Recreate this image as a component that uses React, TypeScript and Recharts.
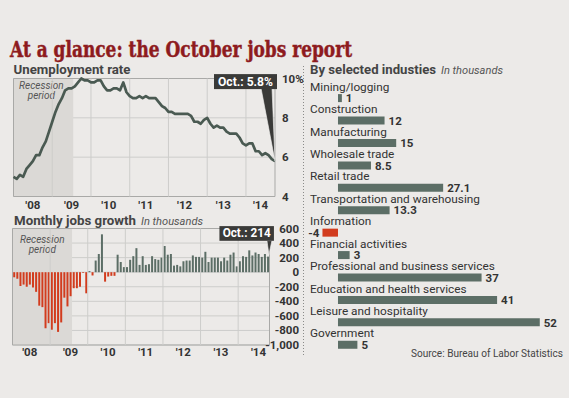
import React from 'react';
import {
  LineChart, Line, BarChart, Bar, Cell, XAxis, YAxis, CartesianGrid,
  ReferenceArea, ReferenceLine, ReferenceDot, LabelList,
} from 'recharts';

// ---------- data ----------
const YEAR_LABELS = ["'08", "'09", "'10", "'11", "'12", "'13", "'14"];
const LINE_TICKS = [6, 18, 29.5, 41, 53, 65, 76.5];
const BAR_TICKS = [5, 18, 30, 42, 54, 66, 78];
const YEAR_STARTS = [12, 24, 36, 48, 60, 72];
const RATE_TICKS = [4, 6, 8, 10];
const JOBS_TICKS = [-1000, -800, -600, -400, -200, 0, 200, 400, 600];

// Unemployment rate, Jan 2008 - Oct 2014 (%)
const UNEMPLOYMENT = [
  5.0, 4.9, 5.1, 5.0, 5.4, 5.6, 5.8, 6.1, 6.1, 6.5, 6.8, 7.3,
  7.8, 8.3, 8.7, 9.0, 9.4, 9.5, 9.5, 9.6, 9.8, 10.0, 9.9, 9.9,
  9.8, 9.8, 9.9, 9.9, 9.6, 9.4, 9.4, 9.5, 9.5, 9.4, 9.8, 9.3,
  9.1, 9.0, 9.0, 9.1, 9.0, 9.1, 9.0, 9.0, 9.0, 8.8, 8.6, 8.5,
  8.3, 8.3, 8.2, 8.2, 8.2, 8.2, 8.2, 8.1, 7.8, 7.8, 7.7, 7.9,
  8.0, 7.7, 7.5, 7.6, 7.5, 7.5, 7.3, 7.2, 7.2, 7.2, 7.0, 6.7,
  6.6, 6.7, 6.7, 6.3, 6.3, 6.1, 6.2, 6.1, 5.9, 5.8,
];

// Monthly jobs growth, Jan 2008 - Oct 2014 (thousands)
const JOBS = [
  -70, -90, -190, -170, -200, -170, -210, -270, -460, -480, -770, -700,
  -790, -700, -820, -690, -350, -470, -330, -220, -220, -200, -10, -290,
  15, -45, 160, 250, 520, -130, -60, -50, -50, 240, 140, 70,
  70, 170, 220, 330, 100, 220, 100, 110, 220, 180, 170, 200,
  360, 240, 250, 90, 100, 80, 150, 160, 160, 230, 210, 210,
  200, 280, 140, 200, 200, 200, 150, 200, 160, 240, 270, 80,
  150, 220, 210, 300, 230, 270, 250, 210, 250, 214,
];

const INDUSTRIES = [
  'Mining/logging', 'Construction', 'Manufacturing', 'Wholesale trade', 'Retail trade',
  'Transportation and warehousing', 'Information', 'Financial activities',
  'Professional and business services', 'Education and health services',
  'Leisure and hospitality', 'Government',
];
const INDUSTRY_VALUES = [1, 12, 15, 8.5, 27.1, 13.3, -4, 3, 37, 41, 52, 5];

const RECESSION_END_LINE = 18.5;
const RECESSION_END_BAR = 18;
const LAST_RATE_LABEL = 'Oct.: 5.8%';
const LAST_JOBS_LABEL = 'Oct.: 214';

// ---------- styles ----------
const BG = '#eceae8';
const SHADE = '#dbd9d6';
const GRID = '#cdcdcb';
const FRAME = '#a9a9a7';
const LINE_C = '#4a5a52';
const GREEN = '#5c6e66';
const RED = '#d23c1e';
const TEXT = '#333333';
const TITLE = '#8e1b1e';
const SANS = 'Roboto, "Open Sans", sans-serif';

const lineData = UNEMPLOYMENT.map((v, i) => ({ i, v }));
const jobsData = JOBS.map((v, i) => ({ i, v }));
const industryData = INDUSTRIES.map((name, k) => ({ name, value: INDUSTRY_VALUES[k] }));

const YearTick = (props: any) => {
  const { x, y, payload, ticks, dy } = props;
  const idx = ticks.indexOf(payload.value);
  return (
    <text x={x} y={y + dy} textAnchor="middle" fontFamily={SANS} fontWeight={700} fontSize={11.5} fill={TEXT}>
      {YEAR_LABELS[idx]}
    </text>
  );
};

const RateTick = (props: any) => {
  const { x, y, payload } = props;
  const label = payload.value === 10 ? '10%' : String(payload.value);
  return (
    <text x={x + 7} y={y + 4} textAnchor="start" fontFamily={SANS} fontWeight={700} fontSize={11.5} fill={TEXT}>
      {label}
    </text>
  );
};

const JobsTick = (props: any) => {
  const { x, y, payload } = props;
  return (
    <text x={x + 29.5} y={y + 4} textAnchor="end" fontFamily={SANS} fontWeight={700} fontSize={11.5} fill={TEXT}>
      {Number(payload.value).toLocaleString('en-US')}
    </text>
  );
};

const recessionLabel = (dx: number, dy1: number, dy2: number) => (p: any) => {
  const vb = p.viewBox || {};
  const cx = vb.x + vb.width / 2 + dx;
  return (
    <g>
      <text x={cx} y={vb.y + dy1} textAnchor="middle" fontFamily={SANS} fontStyle="italic" fontSize={10} fill="#555">Recession</text>
      <text x={cx} y={vb.y + dy2} textAnchor="middle" fontFamily={SANS} fontStyle="italic" fontSize={10} fill="#555">period</text>
    </g>
  );
};

const RateCallout = (p: any) => {
  const { cx, cy } = p;
  return (
    <g>
      <polygon points={`${cx - 14},${cy - 73} ${cx - 3},${cy - 73} ${cx},${cy}`} fill="#3a3a38" stroke="#f4f4f2" strokeWidth={0.6} />
      <rect x={cx - 61} y={cy - 87} width={63} height={15} fill="#3a3a38" />
      <text x={cx - 29.5} y={cy - 75.5} textAnchor="middle" fontFamily={SANS} fontWeight={700} fontSize={12} fill="#fff" textLength={55} lengthAdjust="spacingAndGlyphs">
        {LAST_RATE_LABEL}
      </text>
    </g>
  );
};

const JobsCallout = (p: any) => {
  const { cx, cy } = p;
  return (
    <g>
      <polygon points={`${cx - 1},${cy - 16} ${cx + 4},${cy - 16} ${cx + 1},${cy - 2}`} fill="#3a3a38" stroke="#f4f4f2" strokeWidth={0.6} />
      <rect x={cx - 48.5} y={cy - 30.5} width={54.5} height={14.7} fill="#3a3a38" />
      <text x={cx - 21.3} y={cy - 19.3} textAnchor="middle" fontFamily={SANS} fontWeight={700} fontSize={12} fill="#fff" textLength={48} lengthAdjust="spacingAndGlyphs">
        {LAST_JOBS_LABEL}
      </text>
    </g>
  );
};

// category name drawn above each industry bar, starting 28px left of the zero line
const NameLabel = (props: any) => {
  const { x, y, width, value, index } = props;
  const v = INDUSTRY_VALUES[index];
  const zero = v >= 0 ? Math.min(x, x + width) : Math.max(x, x + width);
  return (
    <text x={zero - 28} y={y - 3.4} textAnchor="start" fontFamily={SANS} fontSize={11.8} fill={TEXT}>
      {value}
    </text>
  );
};

const ValueLabel = (props: any) => {
  const { x, y, width, height, value } = props;
  const left = Math.min(x, x + width);
  const right = Math.max(x, x + width);
  const neg = value < 0;
  return (
    <text
      x={neg ? left - 3 : right + 4}
      y={y + height / 2 + 4.2}
      textAnchor={neg ? 'end' : 'start'}
      fontFamily={SANS}
      fontWeight={700}
      fontSize={11.5}
      fill={TEXT}
    >
      {value}
    </text>
  );
};

export default function App() {
  return (
    <div style={{ position: 'absolute', left: 0, top: 0, width: 569, height: 398, background: BG, overflow: 'hidden' }}>
      <svg width={569} height={398} style={{ position: 'absolute', left: 0, top: 0 }}>
        <text x={10} y={57} fontFamily='"DejaVu Serif", serif' fontWeight={700} fontSize={21.5} fill={TITLE} stroke={TITLE} strokeWidth={0.5} textLength={342} lengthAdjust="spacingAndGlyphs">
          At a glance: the October jobs report
        </text>
        <text x={13.5} y={74.3} fontFamily={SANS} fontWeight={700} fontSize={12.5} fill="#444" textLength={117} lengthAdjust="spacingAndGlyphs">Unemployment rate</text>
        <text x={14} y={224.5} fontFamily={SANS} fontWeight={700} fontSize={12.5} fill="#444" textLength={122} lengthAdjust="spacingAndGlyphs">Monthly jobs growth</text>
        <text x={141} y={224.5} fontFamily={SANS} fontStyle="italic" fontSize={10.5} fill="#555" textLength={62} lengthAdjust="spacingAndGlyphs">In thousands</text>
        <text x={310} y={74.3} fontFamily={SANS} fontWeight={700} fontSize={12} fill="#444" textLength={126} lengthAdjust="spacingAndGlyphs">By selected industies</text>
        <text x={441} y={74.3} fontFamily={SANS} fontStyle="italic" fontSize={10.5} fill="#555" textLength={62} lengthAdjust="spacingAndGlyphs">In thousands</text>
        <line x1={303.5} y1={66} x2={303.5} y2={356} stroke="#8a8a88" strokeWidth={1} strokeDasharray="1 2" />
        <text x={563} y={357} textAnchor="end" fontFamily={SANS} fontSize={10.5} fill="#444" textLength={152} lengthAdjust="spacingAndGlyphs">Source: Bureau of Labor Statistics</text>
      </svg>

      <div style={{ position: 'absolute', left: 0, top: 0 }}>
        <LineChart width={569} height={398} data={lineData} margin={{ top: 78.5, left: 13.5, right: 264, bottom: 181.5 }}>
          <ReferenceArea x1={0} x2={RECESSION_END_LINE} y1={4} y2={10} fill={SHADE} fillOpacity={1} stroke="none" label={recessionLabel(-2, 10, 20)} />
          <CartesianGrid horizontal vertical={false} stroke={GRID} />
          {YEAR_STARTS.map((x) => (
            <ReferenceLine key={x} x={x} stroke={GRID} />
          ))}
          <XAxis type="number" dataKey="i" domain={[0, 81]} ticks={LINE_TICKS} interval={0} height={20}
            axisLine={false} tickLine={false} tickSize={0} tickMargin={0}
            tick={<YearTick ticks={LINE_TICKS} dy={12} />} />
          <YAxis orientation="right" domain={[4, 10]} ticks={RATE_TICKS} interval={0} width={30}
            axisLine={false} tickLine={false} tickSize={0} tickMargin={0} tick={<RateTick />} />
          <ReferenceArea x1={0} x2={81} y1={4} y2={10} fill="none" stroke={FRAME} />
          <Line dataKey="v" type="linear" stroke={LINE_C} strokeWidth={2.7} dot={false} isAnimationActive={false} strokeLinejoin="round" />
          <ReferenceDot x={81} y={5.8} r={0} shape={RateCallout} />
        </LineChart>
      </div>

      <div style={{ position: 'absolute', left: 0, top: 0 }}>
        <BarChart width={569} height={398} data={jobsData} margin={{ top: 228.5, left: 12.5, right: 269.5, bottom: 33 }} barCategoryGap="22%">
          <ReferenceArea x1={0} x2={RECESSION_END_BAR} y1={-1000} y2={600} fill={SHADE} fillOpacity={1} stroke="none" label={recessionLabel(0, 14.3, 24.3)} />
          <CartesianGrid horizontal vertical={false} stroke={GRID} />
          {YEAR_STARTS.map((x) => (
            <ReferenceLine key={x} x={x} stroke={GRID} position="start" />
          ))}
          <XAxis type="category" dataKey="i" ticks={BAR_TICKS} interval={0} height={20}
            axisLine={false} tickLine={false} tickSize={0} tickMargin={0}
            tick={<YearTick ticks={BAR_TICKS} dy={10.7} />} />
          <YAxis orientation="right" domain={[-1000, 600]} ticks={JOBS_TICKS} interval={0} width={30}
            axisLine={false} tickLine={false} tickSize={0} tickMargin={0} tick={<JobsTick />} />
          <ReferenceArea x1={0} x2={81} y1={-1000} y2={600} fill="none" stroke={FRAME} />
          <Bar dataKey="v" isAnimationActive={false}>
            {jobsData.map((d) => (
              <Cell key={d.i} fill={d.v < 0 ? RED : GREEN} />
            ))}
          </Bar>
          <ReferenceDot x={81} y={214} r={0} shape={JobsCallout} />
        </BarChart>
      </div>

      <div style={{ position: 'absolute', left: 0, top: 0 }}>
        <BarChart layout="vertical" width={569} height={398} data={industryData} margin={{ top: 87.1, left: 314.7, right: 13.7, bottom: 41.8 }} barSize={8}>
          <XAxis type="number" domain={[-6, 56]} hide />
          <YAxis type="category" dataKey="name" hide />
          <Bar dataKey="value" isAnimationActive={false}>
            {industryData.map((d, k) => (
              <Cell key={k} fill={d.value < 0 ? RED : GREEN} />
            ))}
            <LabelList dataKey="name" content={<NameLabel />} />
            <LabelList dataKey="value" content={<ValueLabel />} />
          </Bar>
        </BarChart>
      </div>
    </div>
  );
}
